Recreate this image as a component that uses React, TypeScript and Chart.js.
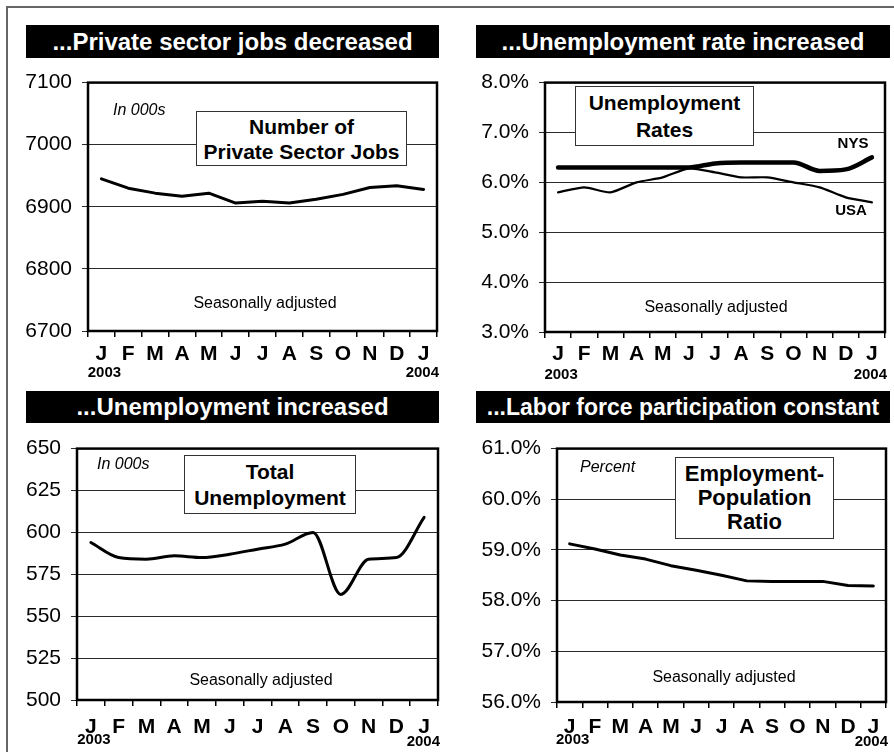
import React, { useEffect, useRef } from "react";
import { Chart, registerables } from "chart.js";

Chart.register(...registerables);

// ---------- DATA ----------
const months = ["J", "F", "M", "A", "M", "J", "J", "A", "S", "O", "N", "D", "J"];
const yearStart = "2003";
const yearEnd = "2004";

const privateJobs = [6945, 6930, 6922, 6917, 6922, 6906, 6909, 6906, 6912, 6920, 6931, 6934, 6928];
const nysRate = [6.3, 6.3, 6.3, 6.3, 6.3, 6.3, 6.38, 6.4, 6.4, 6.4, 6.23, 6.26, 6.5];
const usaRate = [5.8, 5.9, 5.8, 6.0, 6.1, 6.28, 6.2, 6.1, 6.1, 6.0, 5.9, 5.7, 5.6];
const totalUnemp = [594, 585, 584, 586, 585, 587, 590, 593, 600, 563, 584, 585, 609];
const empPopRatio = [59.12, 59.02, 58.9, 58.82, 58.69, 58.6, 58.5, 58.39, 58.38, 58.38, 58.38, 58.3, 58.29];

const jobsTicks = { min: 6700, max: 7100, step: 100 };
const rateTicks = { min: 3, max: 8, step: 1 };
const unempTicks = { min: 500, max: 650, step: 25 };
const ratioTicks = { min: 56, max: 61, step: 1 };

const titles = [
  "...Private sector jobs decreased",
  "...Unemployment rate increased",
  "...Unemployment increased",
  "...Labor force participation constant",
];

const FONT = '"Liberation Sans", Arial, Helvetica, sans-serif';

// ---------- CHART ----------
const framePlugin = {
  id: "frameYears",
  afterDraw(chart: any, _args: any, opts: any) {
    const { ctx, chartArea: a } = chart;
    const xs = chart.scales.x;
    ctx.save();
    ctx.strokeStyle = "#000";
    ctx.lineWidth = 2.5;
    ctx.strokeRect(a.left, a.top, a.right - a.left, a.bottom - a.top);
    ctx.fillStyle = "#000";
    ctx.font = `bold 15px ${FONT}`;
    ctx.textBaseline = "middle";
    ctx.textAlign = "center";
    ctx.fillText(opts.first, xs.getPixelForValue(0) + 3, a.bottom + opts.dy);
    ctx.textAlign = "right";
    ctx.fillText(opts.last, a.right + 2, a.bottom + opts.dy + (opts.dyLast || 0));
    ctx.restore();
  },
};

type Panel = {
  canvas: { left: number; top: number; width: number; height: number };
  area: { l: number; t: number; r: number; b: number };
  datasets: any[];
  ticks: { min: number; max: number; step: number };
  fmt: (v: number) => string;
  xPad: number;
  yearDy: number;
  yearDyLast?: number;
};

function LineChart({ p }: { p: Panel }) {
  const ref = useRef<HTMLCanvasElement>(null);
  useEffect(() => {
    const c = p.canvas;
    const yWidth = p.area.l - c.left;
    const padTop = p.area.t - c.top;
    const padRight = c.left + c.width - p.area.r;
    const xHeight = c.top + c.height - p.area.b;
    const chart = new Chart(ref.current!, {
      type: "line",
      data: { labels: months, datasets: p.datasets },
      plugins: [framePlugin],
      options: {
        animation: false,
        responsive: false,
        devicePixelRatio: 1,
        layout: { padding: { top: padTop, right: padRight, left: 0, bottom: 0 } },
        plugins: {
          legend: { display: false },
          tooltip: { enabled: false },
          frameYears: { first: yearStart, last: yearEnd, dy: p.yearDy, dyLast: p.yearDyLast || 0 },
        } as any,
        elements: { point: { radius: 0 } },
        scales: {
          x: {
            type: "category",
            offset: true,
            grid: {
              offset: true,
              drawOnChartArea: false,
              drawTicks: true,
              tickLength: 6,
              color: "#000",
              lineWidth: 1.5,
            },
            border: { display: false },
            ticks: {
              autoSkip: false,
              maxRotation: 0,
              padding: p.xPad,
              color: "#000",
              font: { family: FONT, size: 21, weight: "bold" },
            },
            afterFit: (s: any) => {
              s.height = xHeight;
            },
          },
          y: {
            min: p.ticks.min,
            max: p.ticks.max,
            grid: { color: "#2a2a2a", lineWidth: 1, tickLength: 6, drawTicks: true },
            border: { display: false },
            ticks: {
              stepSize: p.ticks.step,
              padding: 10,
              color: "#000",
              font: { family: FONT, size: 21 },
              callback: (v: any) => p.fmt(Number(v)),
            },
            afterFit: (s: any) => {
              s.width = yWidth;
            },
          },
        },
      } as any,
    });
    return () => chart.destroy();
  }, [p]);
  return (
    <canvas
      ref={ref}
      width={p.canvas.width}
      height={p.canvas.height}
      style={{
        position: "absolute",
        left: p.canvas.left,
        top: p.canvas.top,
        width: p.canvas.width,
        height: p.canvas.height,
      }}
    />
  );
}

const lineDs = (data: number[], width: number, tension: number, mono = false) => ({
  data,
  borderColor: "#000",
  borderWidth: width,
  fill: false,
  tension,
  cubicInterpolationMode: mono ? "monotone" : "default",
  borderCapStyle: "round",
  borderJoinStyle: "round",
});

const pctFmt = (v: number) => v.toFixed(1) + "%";
const intFmt = (v: number) => String(v);

const panels: Panel[] = [
  {
    canvas: { left: 14, top: 60, width: 433, height: 330 },
    area: { l: 88, t: 74, r: 437, b: 331 },
    datasets: [lineDs(privateJobs, 3, 0)],
    ticks: jobsTicks,
    fmt: intFmt,
    xPad: 5,
    yearDy: 42,
  },
  {
    canvas: { left: 460, top: 60, width: 434, height: 330 },
    area: { l: 545, t: 76, r: 885, b: 332 },
    datasets: [lineDs(nysRate, 4.5, 0, true), lineDs(usaRate, 2.2, 0.2)],
    ticks: rateTicks,
    fmt: pctFmt,
    xPad: 4,
    yearDy: 43,
  },
  {
    canvas: { left: 14, top: 426, width: 433, height: 326 },
    area: { l: 77, t: 440, r: 438, b: 700 },
    datasets: [lineDs(totalUnemp, 3, 0, true)],
    ticks: unempTicks,
    fmt: intFmt,
    xPad: 9,
    yearDy: 40,
    yearDyLast: 2,
  },
  {
    canvas: { left: 460, top: 426, width: 434, height: 326 },
    area: { l: 557, t: 441, r: 886, b: 702 },
    datasets: [lineDs(empPopRatio, 3, 0)],
    ticks: ratioTicks,
    fmt: pctFmt,
    xPad: 7,
    yearDy: 38,
    yearDyLast: 2,
  },
];

// ---------- OVERLAYS ----------
const titleBars = [
  { left: 26, top: 25, width: 413, height: 33, size: 24 },
  { left: 476, top: 25, width: 414, height: 33, size: 24 },
  { left: 26, top: 391, width: 413, height: 32, size: 24 },
  { left: 476, top: 391, width: 414, height: 32, size: 23 },
];

const boxes = [
  { left: 196, top: 111, width: 211, height: 55, size: 21, lh: 25, lines: ["Number of", "Private Sector Jobs"] },
  { left: 575, top: 86, width: 179, height: 60, size: 21, lh: 27, lines: ["Unemployment", "Rates"] },
  { left: 184, top: 455, width: 172, height: 59, size: 21, lh: 26, lines: ["Total", "Unemployment"] },
  { left: 675, top: 457, width: 159, height: 82, size: 22, lh: 24, lines: ["Employment-", "Population", "Ratio"] },
];

const notes = [
  { text: "In 000s", x: 113, y: 110, italic: true, align: "left" },
  { text: "In 000s", x: 97, y: 464, italic: true, align: "left" },
  { text: "Percent", x: 580, y: 467, italic: true, align: "left" },
  { text: "Seasonally adjusted", x: 265, y: 303, align: "center" },
  { text: "Seasonally adjusted", x: 716, y: 307, align: "center" },
  { text: "Seasonally adjusted", x: 261, y: 680, align: "center" },
  { text: "Seasonally adjusted", x: 724, y: 677, align: "center" },
];

const seriesLabels = [
  { text: "NYS", x: 853, y: 143 },
  { text: "USA", x: 851, y: 210 },
];

export default function App() {
  return (
    <div
      style={{
        position: "absolute",
        left: 0,
        top: 0,
        width: 894,
        height: 752,
        background: "#fff",
        overflow: "hidden",
        fontFamily: FONT,
      }}
    >
      <div
        style={{
          position: "absolute",
          left: 6,
          top: 6,
          width: 900,
          height: 760,
          borderTop: "2px solid #666",
          borderLeft: "2px solid #666",
        }}
      />
      {panels.map((p, i) => (
        <LineChart key={i} p={p} />
      ))}
      {titleBars.map((t, i) => (
        <div
          key={"t" + i}
          style={{
            position: "absolute",
            left: t.left,
            top: t.top,
            width: t.width,
            height: t.height,
            background: "#000",
            color: "#fff",
            fontWeight: "bold",
            fontSize: t.size,
            lineHeight: t.height + "px",
            textAlign: "center",
            whiteSpace: "nowrap",
          }}
        >
          {titles[i]}
        </div>
      ))}
      {boxes.map((b, i) => (
        <div
          key={"b" + i}
          style={{
            position: "absolute",
            left: b.left,
            top: b.top,
            width: b.width,
            height: b.height,
            boxSizing: "border-box",
            border: "1.5px solid #333",
            background: "#fff",
            display: "flex",
            flexDirection: "column",
            justifyContent: "center",
            alignItems: "center",
            fontWeight: "bold",
            fontSize: b.size,
            lineHeight: b.lh + "px",
            whiteSpace: "nowrap",
          }}
        >
          {b.lines.map((l, j) => (
            <div key={j}>{l}</div>
          ))}
        </div>
      ))}
      {notes.map((n, i) => (
        <div
          key={"n" + i}
          style={{
            position: "absolute",
            left: n.align === "center" ? n.x - 150 : n.x,
            top: n.y - 10,
            width: n.align === "center" ? 300 : undefined,
            height: 20,
            lineHeight: "20px",
            textAlign: n.align as any,
            fontSize: 16,
            fontStyle: n.italic ? "italic" : "normal",
            whiteSpace: "nowrap",
          }}
        >
          {n.text}
        </div>
      ))}
      {seriesLabels.map((s, i) => (
        <div
          key={"s" + i}
          style={{
            position: "absolute",
            left: s.x - 40,
            top: s.y - 10,
            width: 80,
            height: 20,
            lineHeight: "20px",
            textAlign: "center",
            fontSize: 15,
            fontWeight: "bold",
          }}
        >
          {s.text}
        </div>
      ))}
    </div>
  );
}
